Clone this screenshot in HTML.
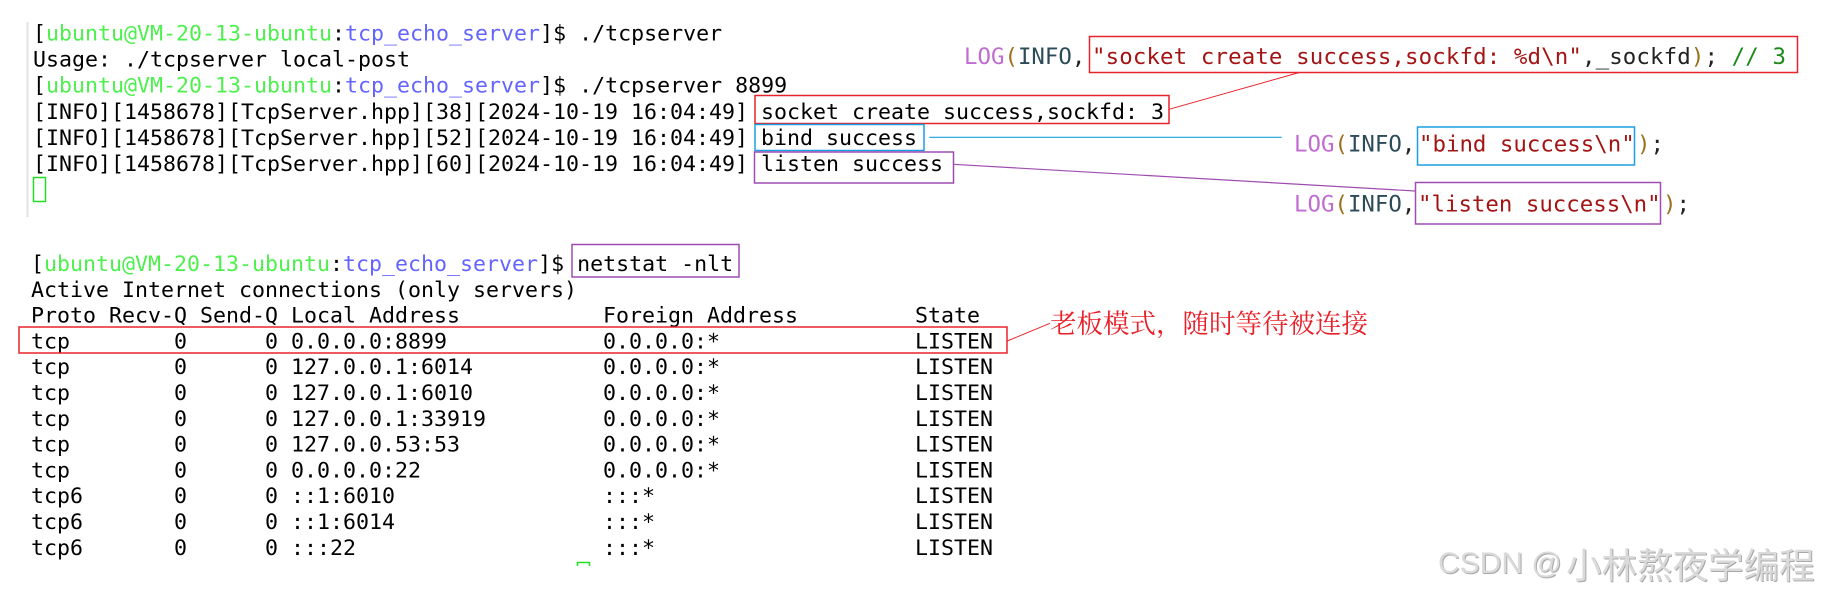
<!DOCTYPE html>
<html>
<head>
<meta charset="utf-8">
<style>
html,body{margin:0;padding:0;background:#fff;}
svg{display:block;}
.t{font-family:"DejaVu Sans Mono","Liberation Mono",monospace;font-size:21.6px;fill:#000;white-space:pre;}
.c{font-family:"DejaVu Sans Mono","Liberation Mono",monospace;font-size:22.4px;white-space:pre;}
.g{fill:#4ef04e;}
.b{fill:#6464ff;}
.lg{fill:#c06cd0;}
.br{fill:#9a6f1e;}
.inf{fill:#2c4b58;}
.k{fill:#222;}
.s{fill:#a31515;}
.cm{fill:#1a8a1a;}
</style>
</head>
<body>
<svg width="1823" height="598" viewBox="0 0 1823 598" xmlns="http://www.w3.org/2000/svg" xml:space="preserve">
<rect x="0" y="0" width="1823" height="598" fill="#fff"/>
<line x1="27.5" y1="22" x2="27.5" y2="217" stroke="#e2e2e2" stroke-width="2"/>

<!-- top terminal -->
<text class="t" x="33" y="40.5">[<tspan class="g">ubuntu@VM-20-13-ubuntu</tspan>:<tspan class="b">tcp_echo_server</tspan>]$ ./tcpserver</text>
<text class="t" x="33" y="66.6">Usage: ./tcpserver local-post</text>
<text class="t" x="33" y="92.7">[<tspan class="g">ubuntu@VM-20-13-ubuntu</tspan>:<tspan class="b">tcp_echo_server</tspan>]$ ./tcpserver 8899</text>
<text class="t" x="33" y="118.8">[INFO][1458678][TcpServer.hpp][38][2024-10-19 16:04:49] socket create success,sockfd: 3</text>
<text class="t" x="33" y="144.9">[INFO][1458678][TcpServer.hpp][52][2024-10-19 16:04:49] bind success</text>
<text class="t" x="33" y="171">[INFO][1458678][TcpServer.hpp][60][2024-10-19 16:04:49] listen success</text>
<rect x="33.5" y="177.5" width="12" height="24" fill="none" stroke="#22dd22" stroke-width="1.5"/>

<!-- top boxes -->
<rect x="755" y="95.5" width="414" height="28" fill="none" stroke="#e8232b" stroke-width="1.5"/>
<rect x="755" y="124.5" width="169" height="26" fill="none" stroke="#1a9fe0" stroke-width="1.5"/>
<rect x="754.5" y="152" width="199" height="31" fill="none" stroke="#9f4cb0" stroke-width="1.5"/>

<!-- code lines -->
<text class="c" x="964" y="64"><tspan class="lg">LOG</tspan><tspan class="br">(</tspan><tspan class="inf">INFO</tspan><tspan class="k">,</tspan></text>
<text class="c" x="1092" y="64" textLength="694" lengthAdjust="spacing"><tspan class="s">"socket create success,sockfd: %d\n"</tspan><tspan class="k">,_sockfd</tspan><tspan class="br">)</tspan><tspan class="k">; </tspan><tspan class="cm">// 3</tspan></text>
<rect x="1089.5" y="36.5" width="708" height="36" fill="none" stroke="#e8232b" stroke-width="1.5"/>

<text class="c" x="1294" y="151.7"><tspan class="lg">LOG</tspan><tspan class="br">(</tspan><tspan class="inf">INFO</tspan><tspan class="k">,</tspan></text>
<text class="c" x="1419" y="151.7"><tspan class="s">"bind success\n"</tspan></text>
<text class="c" x="1637" y="151.7"><tspan class="br">)</tspan><tspan class="k">;</tspan></text>
<rect x="1417.5" y="127" width="217" height="38" fill="none" stroke="#1a9fe0" stroke-width="1.5"/>

<text class="c" x="1294" y="211.7"><tspan class="lg">LOG</tspan><tspan class="br">(</tspan><tspan class="inf">INFO</tspan><tspan class="k">,</tspan></text>
<text class="c" x="1418" y="211.7"><tspan class="s">"listen success\n"</tspan></text>
<text class="c" x="1663" y="211.7"><tspan class="br">)</tspan><tspan class="k">;</tspan></text>
<rect x="1415.5" y="182.5" width="245" height="41.5" fill="none" stroke="#9f4cb0" stroke-width="1.5"/>

<!-- connectors -->
<line x1="1169" y1="109.3" x2="1299.3" y2="72.5" stroke="#e8232b" stroke-width="1"/>
<line x1="929.3" y1="137.3" x2="1281.7" y2="137.3" stroke="#1a9fe0" stroke-width="1.2"/>
<line x1="953.3" y1="164.3" x2="1415.3" y2="191" stroke="#9f4cb0" stroke-width="1.2"/>
<line x1="1007.3" y1="341" x2="1050" y2="323.3" stroke="#e8232b" stroke-width="1"/>

<!-- bottom terminal -->
<text class="t" x="31" y="271">[<tspan class="g">ubuntu@VM-20-13-ubuntu</tspan>:<tspan class="b">tcp_echo_server</tspan>]$ netstat -nlt</text>
<text class="t" x="31" y="296.8">Active Internet connections (only servers)</text>
<text class="t" x="31" y="322.6">Proto Recv-Q Send-Q Local Address           Foreign Address         State</text>
<text class="t" x="31" y="348.4">tcp        0      0 0.0.0.0:8899            0.0.0.0:*               LISTEN</text>
<text class="t" x="31" y="374.2">tcp        0      0 127.0.0.1:6014          0.0.0.0:*               LISTEN</text>
<text class="t" x="31" y="400">tcp        0      0 127.0.0.1:6010          0.0.0.0:*               LISTEN</text>
<text class="t" x="31" y="425.8">tcp        0      0 127.0.0.1:33919         0.0.0.0:*               LISTEN</text>
<text class="t" x="31" y="451.6">tcp        0      0 127.0.0.53:53           0.0.0.0:*               LISTEN</text>
<text class="t" x="31" y="477.4">tcp        0      0 0.0.0.0:22              0.0.0.0:*               LISTEN</text>
<text class="t" x="31" y="503.2">tcp6       0      0 ::1:6010                :::*                    LISTEN</text>
<text class="t" x="31" y="529">tcp6       0      0 ::1:6014                :::*                    LISTEN</text>
<text class="t" x="31" y="554.8">tcp6       0      0 :::22                   :::*                    LISTEN</text>
<path d="M577.5,566 V562.5 H589.5 V566" fill="none" stroke="#22dd22" stroke-width="1.5"/>

<rect x="572" y="244.5" width="167" height="32.5" fill="none" stroke="#9f4cb0" stroke-width="1.5"/>
<rect x="19" y="327" width="988" height="26" fill="none" stroke="#e8232b" stroke-width="1.5"/>

<!-- annotation -->
<text x="1050" y="333" style="font-family:'Noto Serif CJK SC','Liberation Serif',serif;font-size:26.5px;fill:#e8202a;">老板模式，随时等待被连接</text>

<!-- watermark -->
<text x="1439" y="574" style="font-family:'Liberation Sans',sans-serif;font-size:30px;fill:#a9a9a9;">CSDN @</text>
<text x="1438" y="573" style="font-family:'Liberation Sans',sans-serif;font-size:30px;fill:#dadada;">CSDN @</text>
<text x="1567" y="579" style="font-family:'Liberation Sans','Noto Sans CJK SC',sans-serif;font-size:35.5px;fill:#a9a9a9;">小林熬夜学编程</text>
<text x="1566" y="578" style="font-family:'Liberation Sans','Noto Sans CJK SC',sans-serif;font-size:35.5px;fill:#dadada;">小林熬夜学编程</text>
</svg>
</body>
</html>
